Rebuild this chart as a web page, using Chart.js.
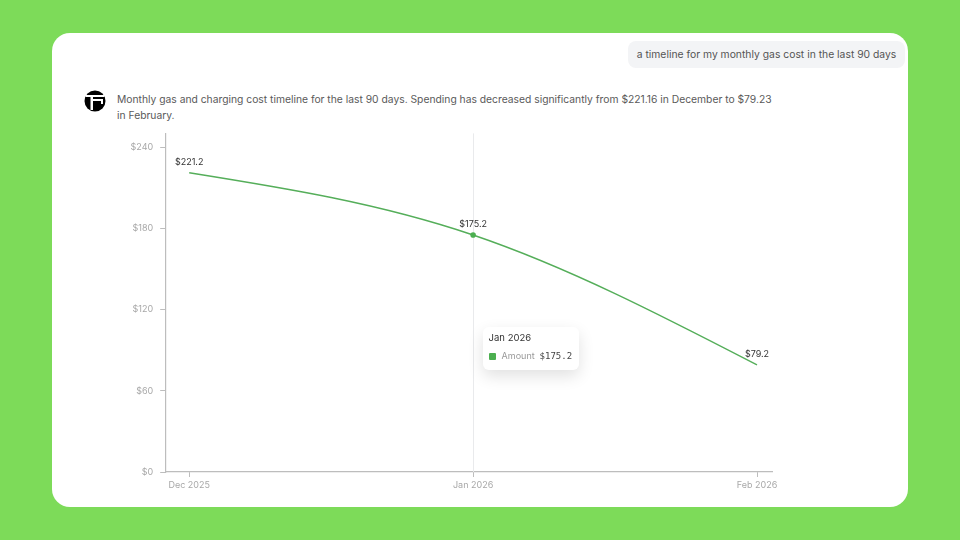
<!DOCTYPE html>
<html>
<head>
<meta charset="utf-8">
<script src="https://cdn.jsdelivr.net/npm/chart.js@4/dist/chart.umd.min.js"></script>
<style>
    html, body { margin: 0; padding: 0; width: 960px; height: 540px; overflow: hidden; background: #7ddb59; font-family: Inter, sans-serif; }
    #card { position: absolute; left: 52px; top: 33px; width: 856px; height: 474px; background: #fff; border-radius: 18px; }
    #ask { position: absolute; left: 628px; top: 41px; width: 277px; height: 27px; line-height: 27px; background: #f3f4f6; border-radius: 8px; font-size: 10.35px; color: #555; text-align: center; white-space: nowrap; }
    #avatar { position: absolute; left: 84px; top: 90px; }
    #answer { position: absolute; left: 117px; top: 92px; width: 660px; font-size: 10.3px; line-height: 15.5px; color: #5a5a5a; }
    #chart-box { position: absolute; left: 105px; top: 121px; width: 690px; height: 379px; }
    #tip { position: absolute; width: 96px; height: 43px; background: #fff; border-radius: 6px; box-shadow: 0 6px 16px rgba(0,0,0,0.12); }
    #tip-title { position: absolute; left: 6px; top: 5px; font-size: 9.5px; line-height: 12px; color: #333; white-space: nowrap; }
    #tip-swatch { position: absolute; left: 6px; top: 26px; width: 7px; height: 7px; background: #4caf50; border-radius: 1px; }
    #tip-name { position: absolute; left: 19px; top: 23px; font-size: 9px; line-height: 12px; color: #999; }
    #tip-value { position: absolute; left: 57px; top: 23px; font-family: "DejaVu Sans Mono", monospace; font-size: 9px; line-height: 12px; color: #444; }
</style>
</head>
<body>
<div id="card"></div>
<div id="ask">a timeline for my monthly gas cost in the last 90 days</div>
<svg id="avatar" width="22" height="22" viewBox="0 0 22 22">
    <circle cx="11" cy="11" r="10.5" fill="#000"/>
    <path d="M1.5 5H20.5V7H9V9H19V14H17V11H9V20H6.5V7H1.5Z" fill="#fff"/>
</svg>
<div id="answer">Monthly gas and charging cost timeline for the last 90 days. Spending has decreased significantly from $221.16 in December to $79.23 in February.</div>
<div id="chart-box">
    <canvas id="chart" width="690" height="379"></canvas>
    <div id="tip">
        <div id="tip-title"></div>
        <div id="tip-swatch"></div>
        <div id="tip-name"></div>
        <div id="tip-value"></div>
    </div>
</div>
<script>
const months = ['Dec 2025', 'Jan 2026', 'Feb 2026'];
const amounts = [221.2, 175.2, 79.2];
const yTicks = [0, 60, 120, 180, 240];
const seriesName = 'Amount';
const activeIndex = 1;

/**
 * Bend the two end segments the way the original monotone curve does:
 * the end slope comes from the segment slope and the middle point slope
 */
const endTangents = {
    id: 'endTangents',
    afterDatasetsUpdate(chart) {
        const line = chart.getDatasetMeta(0).dataset;
        line.updateControlPoints(chart.chartArea, 'x');
        const pts = chart.getDatasetMeta(0).data;
        const h = (pts[1].x - pts[0].x) / 3;
        const s0 = (pts[1].y - pts[0].y) / (pts[1].x - pts[0].x);
        const s1 = (pts[2].y - pts[1].y) / (pts[2].x - pts[1].x);
        const mid = (s0 + s1) / 2;
        pts[0].cp2x = pts[0].x + h;
        pts[0].cp2y = pts[0].y + h * (3 * s0 - mid) / 2;
        pts[2].cp1x = pts[2].x - h;
        pts[2].cp1y = pts[2].y - h * (3 * s1 - mid) / 2;
    }
};

/**
 * Draw the value labels and the hover line of the active month
 */
const pointLabels = {
    id: 'pointLabels',
    beforeDatasetsDraw(chart) {
        const ctx = chart.ctx;
        const x = Math.round(chart.scales.x.getPixelForValue(activeIndex)) + 0.5;
        ctx.save();
        ctx.strokeStyle = '#e9eaec';
        ctx.lineWidth = 1;
        ctx.beginPath();
        ctx.moveTo(x, chart.chartArea.top);
        ctx.lineTo(x, chart.chartArea.bottom);
        ctx.stroke();
        ctx.restore();
    },
    afterDatasetsDraw(chart) {
        const ctx = chart.ctx;
        ctx.save();
        ctx.font = '9px Inter';
        ctx.fillStyle = '#333';
        ctx.textAlign = 'center';
        chart.getDatasetMeta(0).data.forEach(function(point, i) {
            ctx.fillText('$' + amounts[i].toFixed(1), point.x, point.y - 8);
        });
        ctx.restore();
    }
};

/**
 * Put the tooltip content into the html box beside the hover line
 */
function showTooltip(context) {
    const model = context.tooltip;
    if (!model.dataPoints || !model.dataPoints.length) {
        return;
    }
    const item = model.dataPoints[0];
    const box = document.getElementById('tip');
    box.style.left = (model.caretX + 9.5) + 'px';
    box.style.top = '206px';
    document.getElementById('tip-title').textContent = months[item.parsed.x];
    document.getElementById('tip-name').textContent = item.dataset.label;
    document.getElementById('tip-value').textContent = '$' + item.parsed.y.toFixed(1);
}

const chart = new Chart(document.getElementById('chart'), {
    type: 'line',
    data: {
        datasets: [{
            label: seriesName,
            data: amounts.map((v, i) => ({ x: i, y: v })),
            borderColor: '#55ae5a',
            backgroundColor: '#4caf50',
            borderWidth: 1.4,
            cubicInterpolationMode: 'monotone',
            pointRadius: 0,
            pointHoverRadius: 2.8,
            pointHoverBorderWidth: 0,
            pointHoverBackgroundColor: '#4caf50'
        }]
    },
    options: {
        responsive: false,
        animation: false,
        events: [],
        layout: { padding: { top: 0, right: 23, left: 0, bottom: 0 } },
        plugins: {
            legend: { display: false },
            tooltip: {
                enabled: false,
                external: showTooltip
            }
        },
        scales: {
            x: {
                type: 'linear',
                min: -24 / 284,
                max: 2 + 15 / 284,
                afterBuildTicks(axis) {
                    axis.ticks = months.map((m, i) => ({ value: i }));
                },
                afterFit(axis) { axis.height = 28; },
                border: { color: '#bdbdbd', width: 1.2 },
                grid: { drawOnChartArea: false, drawTicks: true, tickLength: 5, color: '#bdbdbd' },
                ticks: {
                    autoSkip: false,
                    maxRotation: 0,
                    padding: 3,
                    color: '#a8a8a8',
                    font: { family: 'Inter', size: 9 },
                    callback: (v) => months[v]
                }
            },
            y: {
                min: 0,
                max: 250.3,
                afterBuildTicks(axis) {
                    axis.ticks = yTicks.map((v) => ({ value: v }));
                },
                afterFit(axis) { axis.width = 60.2; },
                border: { color: '#bdbdbd', width: 1.2 },
                grid: { drawOnChartArea: false, drawTicks: true, tickLength: 5, color: '#bdbdbd' },
                ticks: {
                    padding: 7,
                    color: '#a8a8a8',
                    font: { family: 'Inter', size: 9 },
                    callback: (v) => '$' + v
                }
            }
        }
    },
    plugins: [endTangents, pointLabels]
});

const activePoint = chart.getDatasetMeta(0).data[activeIndex];
chart.setActiveElements([{ datasetIndex: 0, index: activeIndex }]);
chart.tooltip.setActiveElements([{ datasetIndex: 0, index: activeIndex }], { x: activePoint.x, y: activePoint.y });
chart.update();
</script>
</body>
</html>
